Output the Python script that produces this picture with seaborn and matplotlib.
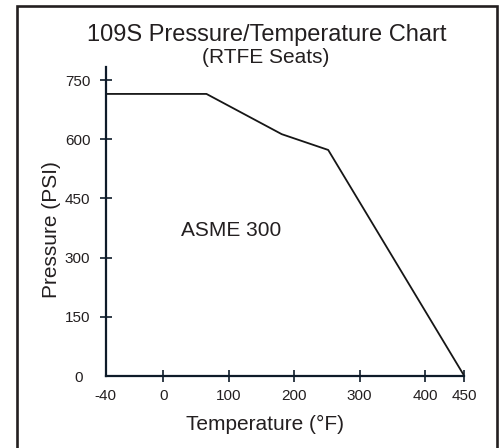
import numpy as np
import pandas as pd
import matplotlib
matplotlib.use("Agg")
import matplotlib.pyplot as plt
import matplotlib.patches as mpatches
import seaborn as sns

# ---- data ----
temperature_f = [-40, 66, 181, 252, 450]
pressure_psi = [715, 715, 613, 573, 0]
x_ticks = [-40, 0, 100, 200, 300, 400, 450]
y_ticks = [0, 150, 300, 450, 600, 750]
title = "109S Pressure/Temperature Chart"
subtitle = "(RTFE Seats)"
class_label = "ASME 300"

df = pd.DataFrame({"Temperature": temperature_f, "Pressure": pressure_psi})

sns.set_theme(style="white")
plt.rcParams["font.family"] = ["Liberation Sans", "DejaVu Sans"]

TEXT = "#231f20"
SPINE = "#0e1b29"

fig = plt.figure(figsize=(4.99, 4.48), dpi=100)
ax = fig.add_axes([0.2118, 0.1607, 0.7187, 0.6904])

# piecewise axis stretch used by the original chart (ends are widened)
_src = [-40, 0, 400, 450]
_dst = [-88, 0, 400, 460]
def _fwd(v):
    return np.interp(v, _src, _dst, left=None, right=None)
def _inv(v):
    return np.interp(v, _dst, _src)
ax.set_xscale("function", functions=(_fwd, _inv))

sns.lineplot(data=df, x="Temperature", y="Pressure", ax=ax, color="#161616",
             linewidth=1.3, sort=False)

ax.set_xlim(-40, 450)
ax.set_ylim(0, 784)
ax.set_xticks(x_ticks)
ax.set_xticklabels([str(t) for t in x_ticks])
ax.set_yticks(y_ticks)
ax.set_yticklabels([str(t) for t in y_ticks])

for s in ["top", "right"]:
    ax.spines[s].set_visible(False)
for s in ["left", "bottom"]:
    ax.spines[s].set_color(SPINE)
    ax.spines[s].set_linewidth(1.6)

ax.tick_params(axis="both", direction="inout", length=9, width=1.2,
               color=SPINE, labelsize=11, labelcolor=TEXT,
               bottom=True, left=True, top=False, right=False)
ax.tick_params(axis="y", pad=6.5)
ax.tick_params(axis="x", pad=5)

# no tick marks at the origin
ax.xaxis.get_major_ticks()[0].tick1line.set_visible(False)
yt0 = ax.yaxis.get_major_ticks()[0]
yt0.tick1line.set_visible(False)
yt0.label1.set_x(-0.022)

ax.set_xlabel("Temperature (°F)", fontsize=15, color=TEXT)
ax.set_ylabel("Pressure (PSI)", fontsize=15, color=TEXT)
ax.xaxis.set_label_coords(0.4456, -0.125)
ax.yaxis.set_label_coords(-0.125, 0.472)

ax.text(0.349, 0.4536, class_label, transform=ax.transAxes, ha="center",
        va="baseline", fontsize=15, color=TEXT)

fig.text(0.534, 0.9092, title, ha="center", va="baseline", fontsize=17, color=TEXT)
fig.text(0.532, 0.860, subtitle, ha="center", va="baseline", fontsize=15, color=TEXT)

# outer frame
frame = mpatches.Rectangle((0.0345, -0.02), 0.9605, 1.0077, transform=fig.transFigure,
                           fill=False, edgecolor="#231f20", linewidth=1.9)
fig.patches.append(frame)

fig.savefig("out.png", dpi=100)
